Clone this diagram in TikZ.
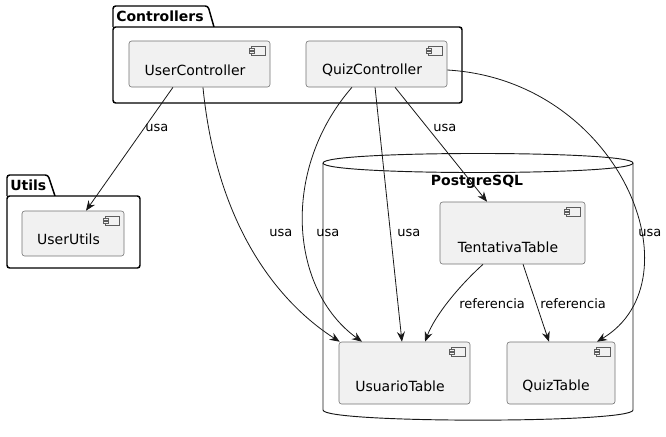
\documentclass[tikz,border=0pt]{standalone}
\usepackage{fontspec}
\setmainfont{DejaVu Sans}
\usepackage{xcolor}
\usepackage{tikz}
\usetikzlibrary{arrows.meta}
\definecolor{compfill}{HTML}{F1F1F1}
\definecolor{umlline}{HTML}{181818}
% small component icon in the top right corner of a box
\newcommand{\compicon}[1]{%
  \draw[icon] ([xshift=-14.25pt,yshift=-4.5pt]#1.north east) rectangle ([xshift=-3.75pt,yshift=-11.25pt]#1.north east);
  \draw[icon] ([xshift=-15.75pt,yshift=-6pt]#1.north east) rectangle ([xshift=-12pt,yshift=-7.5pt]#1.north east);
  \draw[icon] ([xshift=-15.75pt,yshift=-8.25pt]#1.north east) rectangle ([xshift=-12pt,yshift=-9.75pt]#1.north east);
}

\begin{document}
\begin{tikzpicture}[x=0.75pt, y=-0.75pt,
    every node/.style={font=\fontsize{10.5}{12.6}\selectfont},
    comp/.style={draw=umlline!60, line width=0.45pt, fill=compfill, rounded corners=2pt, inner sep=0pt},
    icon/.style={draw=umlline!70, line width=0.35pt, fill=compfill},
    pkg/.style={draw=black, line width=1.1pt, fill=white, rounded corners=2pt},
    db/.style={draw=umlline, line width=0.7pt, fill=white},
    title/.style={font=\fontsize{10.5}{12.6}\selectfont\bfseries, inner sep=0pt},
    boxtext/.style={inner sep=0pt},
    edgelbl/.style={font=\fontsize{9.75}{11.7}\selectfont, inner sep=0pt, anchor=west},
    uses/.style={draw=umlline, line width=0.6pt, -{Stealth[length=7.5pt, width=6pt, inset=2.5pt]}}]
  \useasboundingbox (0,0) rectangle (666,436);

  % Packages
  \draw[pkg] (113,27) -- (113,6) -- (208,6) -- (214,27);
  \draw[pkg] (113,27) rectangle (462,103);
  \node[title, anchor=west] (ctrl-title) at (116,16) {Controllers};
  \draw[pkg] (7,196) -- (7,175) -- (48,175) -- (55,196);
  \draw[pkg] (7,196) rectangle (140,268);
  \node[title, anchor=west] (utils-title) at (10,185) {Utils};

  % Database
  \draw[db] (323,163) -- (323,410) .. controls (323,423.5) and (633,423.5) .. (633,410) -- (633,163)
            .. controls (633,150.3) and (323,150.3) .. (323,163);
  \draw[db] (323,163) .. controls (323,175.7) and (633,175.7) .. (633,163);
  \node[title] (db-title) at (477,182) {PostgreSQL};

  % Components
  \node[comp, minimum width=105.75pt, minimum height=34.5pt] (ucon) at (199.5,64) {};
  \node[comp, minimum width=105.75pt, minimum height=34.5pt] (qcon) at (376.5,64) {};
  \node[comp, minimum width=76.5pt, minimum height=33.75pt] (uutil) at (73,233.5) {};
  \node[comp, minimum width=108.75pt, minimum height=46.5pt] (tent) at (512.5,233) {};
  \node[comp, minimum width=98.25pt, minimum height=46.5pt] (usu) at (404.5,373) {};
  \node[comp, minimum width=81pt, minimum height=46.5pt] (qtab) at (561,373) {};
  \foreach \c in {ucon,qcon,uutil,tent,usu,qtab} {\compicon{\c}}

  \node[boxtext] (ucon-t) at (195,70) {UserController};
  \node[boxtext] (qcon-t) at (372,70) {QuizController};
  \node[boxtext] (uutil-t) at (68.5,239) {UserUtils};
  \node[boxtext] (tent-t) at (508,247) {TentativaTable};
  \node[boxtext] (usu-t) at (400,386) {UsuarioTable};
  \node[boxtext] (qtab-t) at (556,386) {QuizTable};

  % Dependencies
  \draw[uses] ([xshift=-19.9pt]ucon.south) -- ([xshift=9.75pt]uutil.north);
  \draw[uses] ([xshift=2.6pt]ucon.south) .. controls (218,240) and (290,310) .. ([xshift=0.75pt]usu.north west);
  \draw[uses] ([xshift=-18.4pt]qcon.south) .. controls (280,170) and (290,290) .. ([xshift=-31.9pt]usu.north);
  \draw[uses] ([xshift=-1.1pt]qcon.south) -- ([xshift=-1.9pt]usu.north);
  \draw[uses] ([xshift=13.9pt]qcon.south) -- ([xshift=-19.1pt]tent.north);
  \draw[uses] ([yshift=-4.5pt]qcon.east) .. controls (620,80) and (700,280) .. ([xshift=27pt]qtab.north);
  \draw[uses] ([xshift=-22.1pt]tent.south) .. controls (460,285) and (435,315) .. ([xshift=15.4pt]usu.north);
  \draw[uses] ([xshift=7.9pt]tent.south) -- ([xshift=-9pt]qtab.north);

  % Labels
  \node[edgelbl] (l-uutil) at (145,128) {usa};
  \node[edgelbl] (l-ucon-usu) at (269,233) {usa};
  \node[edgelbl] (l-qcon-usu) at (316,233) {usa};
  \node[edgelbl] (l-qcon-usu2) at (397,233) {usa};
  \node[edgelbl] (l-tent) at (433,128) {usa};
  \node[edgelbl] (l-qtab) at (638,233) {usa};
  \node[edgelbl] (l-ref-usu) at (459,304) {referencia};
  \node[edgelbl] (l-ref-qtab) at (540,304) {referencia};
\end{tikzpicture}
\end{document}
